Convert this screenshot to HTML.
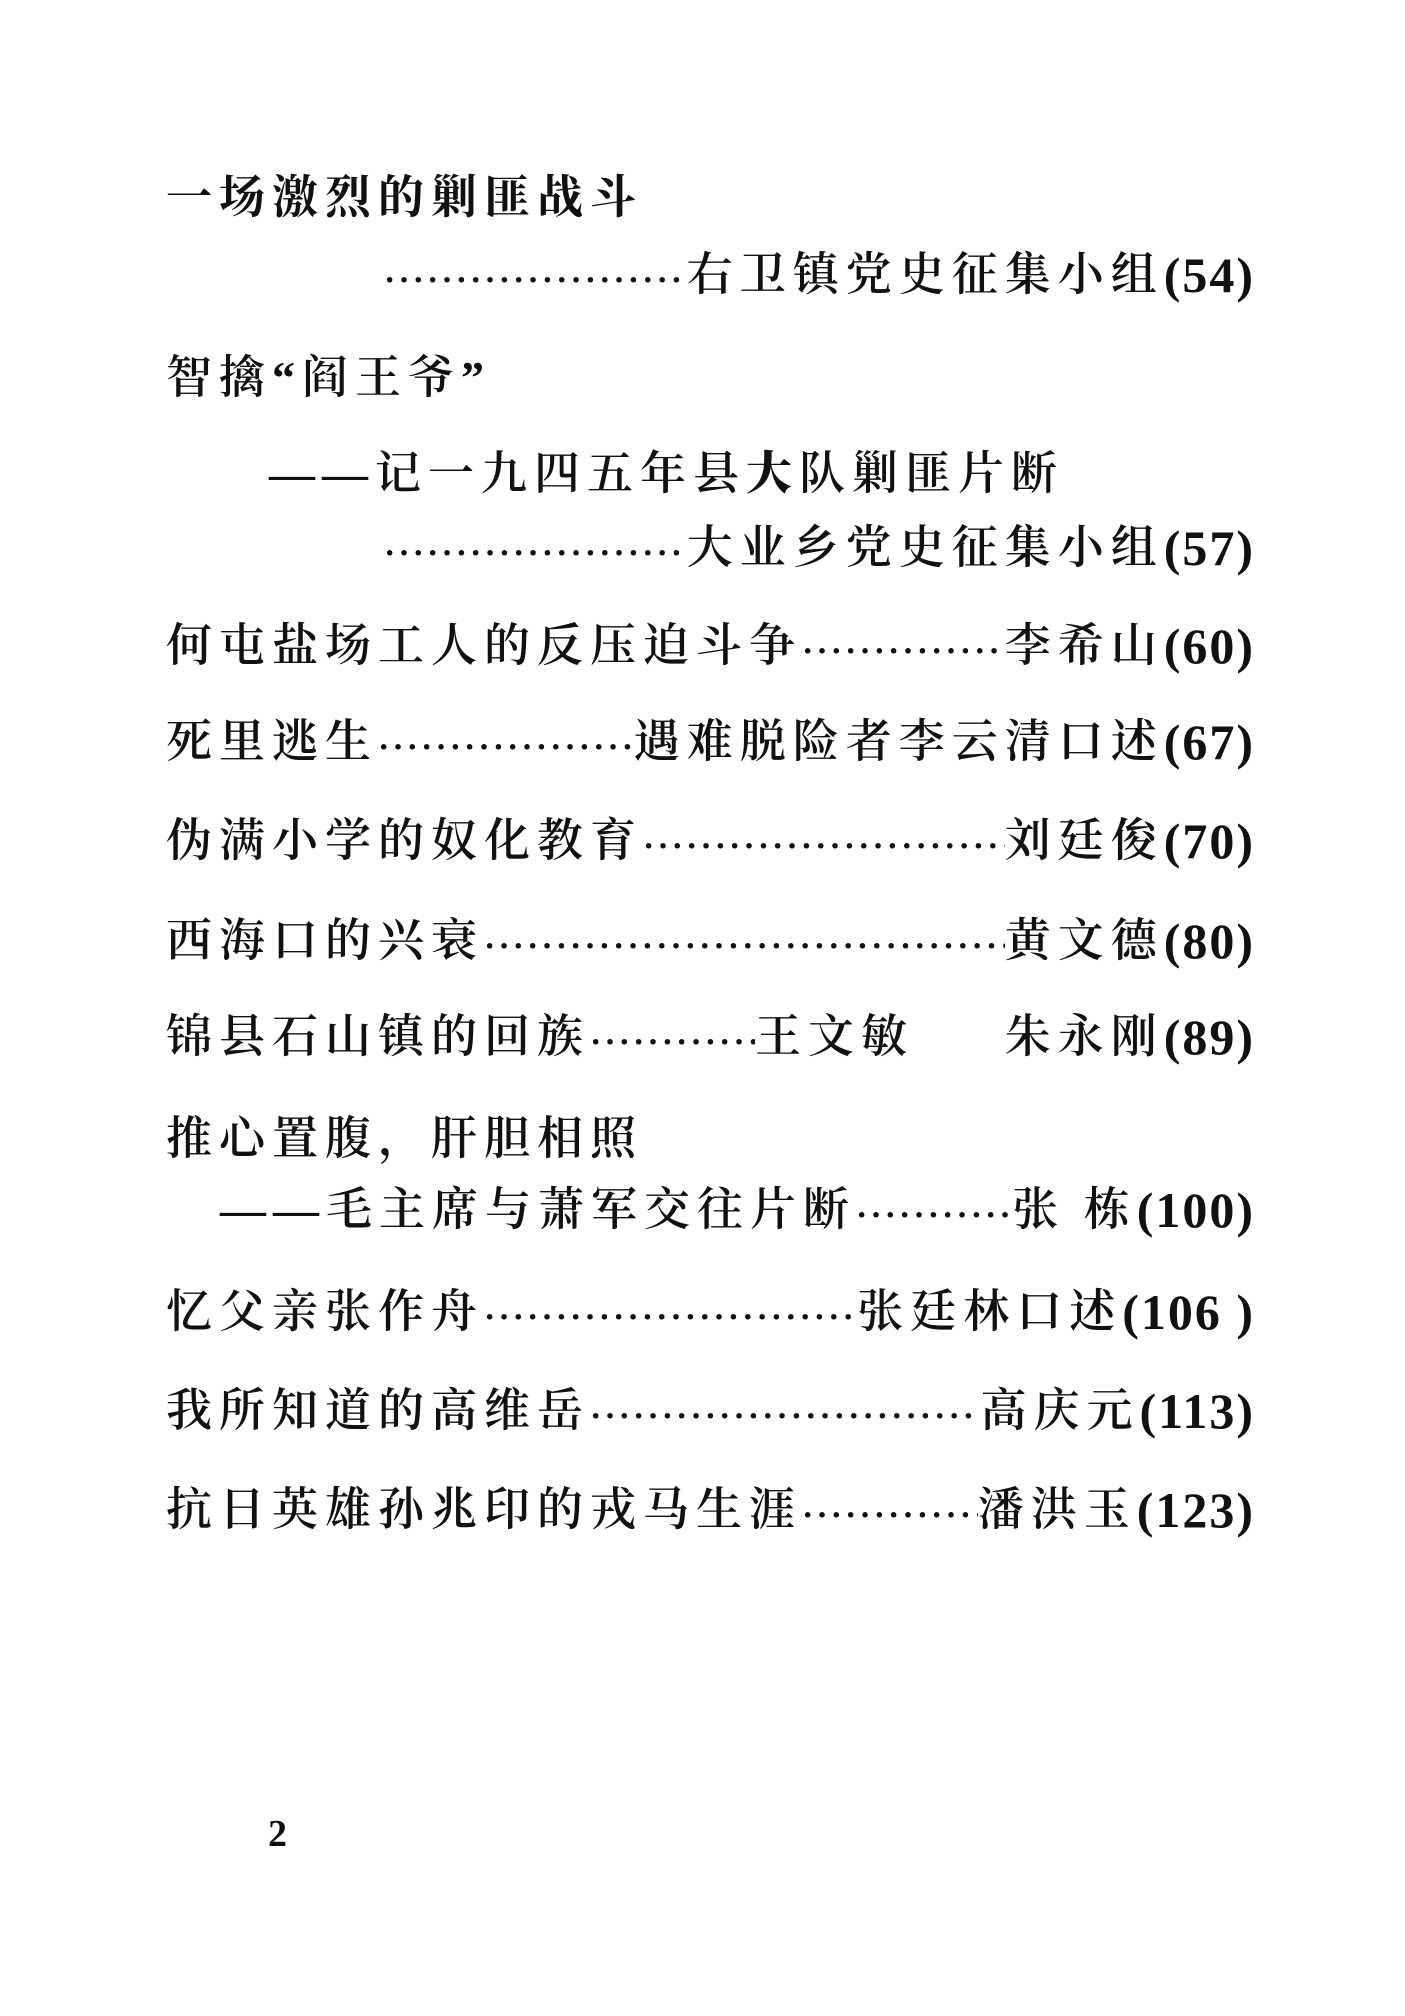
<!DOCTYPE html>
<html><head><meta charset="utf-8"><style>
html,body{margin:0;padding:0;background:#fff;}
body{width:1405px;height:2016px;position:relative;overflow:hidden;
font-family:"Liberation Serif","Noto Serif CJK SC",serif;color:#111;}
.l{position:absolute;left:166px;right:150px;height:60px;display:flex;align-items:center;font-size:46px;line-height:60px;white-space:nowrap;}
.t{letter-spacing:7px;font-weight:600;}
.d{flex:1;overflow:hidden;letter-spacing:3px;font-size:34px;font-weight:700;padding-top:12px;}
.n{font-family:"Liberation Serif",serif;font-size:50px;letter-spacing:2px;font-weight:700;}
b{font-weight:900;}
</style></head><body>
<div class="l" style="top:168px"><span class="t" style="font-weight:700">一场激烈的剿匪战斗</span></div>
<div class="l" style="top:245px;left:384px"><span class="d">··································································</span><span class="t">右卫镇党史征集小组</span><span class="n">(54)</span></div>
<div class="l" style="top:348px"><span class="t">智擒“阎王爷”</span></div>
<div class="l" style="top:444px;left:269px"><span class="t">——记一九四五年县<b>大</b>队剿匪片断</span></div>
<div class="l" style="top:518px;left:384px"><span class="d">··································································</span><span class="t">大业乡党史征集小组</span><span class="n">(57)</span></div>
<div class="l" style="top:616px"><span class="t">何屯盐场工人的反压迫斗争</span><span class="d">··································································</span><span class="t">李希山</span><span class="n">(60)</span></div>
<div class="l" style="top:712px"><span class="t">死里逃生</span><span class="d">··································································</span><span class="t">遇难脱险者李云清口述</span><span class="n">(67)</span></div>
<div class="l" style="top:811px"><span class="t">伪满小学的奴化教育</span><span class="d">··································································</span><span class="t">刘廷俊</span><span class="n">(70)</span></div>
<div class="l" style="top:911px"><span class="t">西海口的兴衰</span><span class="d">··································································</span><span class="t">黄文德</span><span class="n">(80)</span></div>
<div class="l" style="top:1007px"><span class="t">锦县石山镇的回族</span><span class="d" style="flex:0 0 165px">··································································</span><span class="t">王文敏</span><span style="flex:1"></span><span class="t">朱永刚</span><span class="n">(89)</span></div>
<div class="l" style="top:1109px"><span class="t">推心置腹，肝胆相照</span></div>
<div class="l" style="top:1180px;left:220px"><span class="t">——毛主席与萧军交往片断</span><span class="d">··································································</span><span class="t">张 栋</span><span class="n">(100)</span></div>
<div class="l" style="top:1282px"><span class="t">忆父亲张作舟</span><span class="d">··································································</span><span class="t">张廷林口述</span><span class="n">(106 )</span></div>
<div class="l" style="top:1381px"><span class="t">我所知道的高维岳</span><span class="d">··································································</span><span class="t">高庆元 </span><span class="n">(113)</span></div>
<div class="l" style="top:1480px"><span class="t">抗日英雄孙兆印的戎马生涯</span><span class="d">··································································</span><span class="t">潘洪玉 </span><span class="n">(123)</span></div>
<div style="position:absolute;left:268px;top:1812px;font-family:'Liberation Serif',serif;font-weight:700;font-size:38px;">2</div>
</body></html>
